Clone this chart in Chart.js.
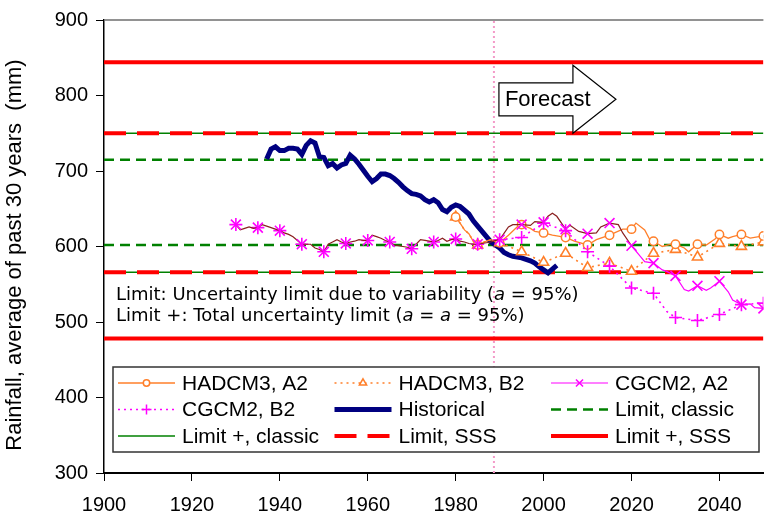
<!DOCTYPE html>
<html>
<head>
<meta charset="utf-8">
<script src="https://cdn.jsdelivr.net/npm/chart.js@4.4.0/dist/chart.umd.min.js"></script>
<style>
html, body { margin: 0; padding: 0; background: #fff; overflow: hidden; }
#wrap { position: relative; width: 772px; height: 520px; }
</style>
</head>
<body>
<div id="wrap"><canvas id="rainChart"></canvas></div>
<script>
// ---- data ----
var histStart = 1937;
var histValues = [716, 729, 732, 727, 727, 730, 730, 729, 722, 734,
                  740, 737, 719, 718, 707, 710, 704, 708, 710, 721,
                  716, 709, 701, 693, 686, 690, 696, 696, 694, 690,
                  685, 679, 674, 670, 669, 667, 662, 659, 662, 658,
                  649, 646, 652, 655, 653, 648, 643, 634, 627, 620,
                  613, 606, 602, 598, 592, 589, 587, 586, 585, 583,
                  581, 578, 573, 569, 565, 570, 575];

// CGCM2 run, common to A2 and B2 up to 1990
var cgcmHistStart = 1930;
var cgcmHistValues = [629, 622, 624, 626, 624, 625, 629, 627, 625, 623,
                      621, 618, 616, 613, 608, 603, 603, 603, 598, 596,
                      593, 603, 606, 609, 606, 604, 606, 607, 609, 608,
                      608, 615, 613, 611, 608, 606, 602, 601, 600, 599,
                      597, 603, 609, 608, 607, 606, 608, 611, 607, 609,
                      610, 607, 606, 604, 603, 603, 604, 605, 606, 608, 609];
var cgcmA2Years = [1992, 1993, 1995, 1997, 1998, 2000, 2001, 2002, 2003, 2005, 2006, 2008,
                   2010, 2012, 2013, 2015, 2017, 2018, 2020, 2022, 2023, 2025, 2027, 2028,
                   2030, 2032, 2033, 2035, 2037, 2038, 2040, 2042, 2043, 2045, 2047, 2048, 2050];
var cgcmA2Values = [626, 629, 629, 628, 633, 632, 640, 644, 640, 623, 628, 620,
                    617, 618, 626, 631, 629, 618, 601, 587, 580, 578, 569, 567,
                    561, 543, 541, 548, 542, 545, 554, 540, 529, 523, 524, 519, 518];
var cgcmB2Years = [1995, 2000, 2005, 2010, 2015, 2020, 2025, 2028, 2030, 2035, 2040, 2045, 2050];
var cgcmB2Values = [612, 631, 621, 593, 574, 545, 538, 514, 506, 502, 510, 523, 525];

// HADCM3 run, common to A2 and B2 up to 1990
var hadHistYears = [1980, 1981, 1982, 1983, 1984, 1985, 1987, 1988, 1990];
var hadHistValues = [639, 631, 622, 617, 607, 602, 607, 609, 605];
var hadA2Years = [1992, 1994, 1995, 1997, 1998, 2000, 2002, 2004, 2005, 2007, 2010, 2012,
                  2015, 2018, 2020, 2021, 2023, 2024, 2025, 2027, 2029, 2030, 2032, 2033,
                  2035, 2037, 2039, 2040, 2042, 2043, 2045, 2047, 2050];
var hadA2Values = [615, 626, 629, 624, 620, 618, 615, 613, 612, 607, 602, 609,
                   615, 623, 623, 631, 622, 611, 607, 600, 603, 603, 598, 593,
                   603, 602, 610, 616, 611, 613, 616, 611, 614];
var hadB2Years = [1995, 2000, 2005, 2010, 2015, 2020, 2025, 2030, 2035, 2040, 2045, 2050];
var hadB2Values = [593, 579, 591, 572, 578, 567, 591, 596, 586, 604, 600, 606];

// limits: [upper, lower]
var limitClassic = [715, 602];
var limitPlusClassic = [750, 566];
var limitSSS = [750, 566];
var limitPlusSSS = [844, 478];

var xTicksStart = 1900, xTicksEnd = 2050, xStep = 20;
var yMin = 300, yMax = 900, yStep = 100;
var forecastYear = 1988.7;
var yTitle = 'Rainfall, average of past 30 years  (mm)';

// ---- helpers ----
function pts(years, values) {
  return values.map(function (v, i) { return { x: years[i], y: v }; });
}
function run(start, values) {
  return values.map(function (v, i) { return { x: start + i, y: v }; });
}
function band(lims) {
  return [{ x: xTicksStart, y: lims[0] }, { x: xTicksEnd, y: lims[0] }, { x: xTicksEnd, y: null },
          { x: xTicksStart, y: lims[1] }, { x: xTicksEnd, y: lims[1] }];
}
function every5(r) {
  return function (c) { return c.raw && c.raw.x % 5 === 0 ? r : 0; };
}

var ORANGE = '#ff7f2a', MAGENTA = '#ff00ff', BROWN = '#8a2020';

var cgcmHist = run(cgcmHistStart, cgcmHistValues);
var hadHist = pts(hadHistYears, hadHistValues);

var datasets = [
  { label: 'HADCM3, A2', data: hadHist.concat(pts(hadA2Years, hadA2Values)),
    borderColor: ORANGE, borderWidth: 1.3, pointStyle: 'circle', mk: 4.2, lmk: 3.2,
    pointRadius: every5(4.2), pointBorderColor: ORANGE, pointBackgroundColor: '#fff', pointBorderWidth: 1.5, order: 2 },
  { label: 'HADCM3, B2', data: hadHist.concat(pts(hadB2Years, hadB2Values)),
    borderColor: ORANGE, borderWidth: 1.6, borderDash: [2, 4], pointStyle: 'triangle', mk: 5.8, lmk: 4.2,
    pointRadius: every5(5.8), pointBorderColor: ORANGE, pointBackgroundColor: '#fff', pointBorderWidth: 1.6, order: 2 },
  { label: 'CGCM2, A2', data: cgcmHist.concat(pts(cgcmA2Years, cgcmA2Values)),
    borderColor: MAGENTA, borderWidth: 1.2, pointStyle: 'crossRot', mk: 7, lmk: 5,
    pointRadius: every5(7), pointBorderColor: MAGENTA, pointBorderWidth: 1.6, order: 1,
    segment: { borderColor: function (c) { return c.p1.parsed.x <= 2020 ? BROWN : MAGENTA; } } },
  { label: 'CGCM2, B2', data: cgcmHist.concat(pts(cgcmB2Years, cgcmB2Values)),
    borderColor: MAGENTA, borderWidth: 1.6, borderDash: [2, 4], pointStyle: 'cross', mk: 6.5, lmk: 5,
    pointRadius: every5(6.5), pointBorderColor: MAGENTA, pointBorderWidth: 1.6, order: 1,
    segment: { borderColor: function (c) { return c.p1.parsed.x <= 1990 ? 'rgba(0,0,0,0)' : MAGENTA; } } },
  { label: 'Historical', data: run(histStart, histValues),
    borderColor: '#000080', borderWidth: 5, pointRadius: 0, order: 5 },
  { label: 'Limit, classic', data: band(limitClassic),
    borderColor: '#008000', borderWidth: 2.5, borderDash: [10, 6], pointRadius: 0, order: 7 },
  { label: 'Limit +, classic', data: band(limitPlusClassic),
    borderColor: '#008000', borderWidth: 1.5, pointRadius: 0, order: 10 },
  { label: 'Limit, SSS', data: band(limitSSS),
    borderColor: '#ff0000', borderWidth: 4, borderDash: [22, 11], pointRadius: 0, order: 9 },
  { label: 'Limit +, SSS', data: band(limitPlusSSS),
    borderColor: '#ff0000', borderWidth: 4, pointRadius: 0, order: 8 },
  { label: 'forecast', data: [{ x: forecastYear, y: yMin }, { x: forecastYear, y: yMax }],
    borderColor: '#f49ac8', borderWidth: 2, borderDash: [2, 3], pointRadius: 0, order: 30 }
];

function richText(ctx, parts, x, y) {
  parts.forEach(function (p) {
    ctx.font = (p[1] ? 'italic ' : '') + '18px "DejaVu Sans"';
    ctx.fillText(p[0], x, y);
    x += ctx.measureText(p[0]).width;
  });
}

var extras = {
  id: 'extras',
  afterDatasetsDraw: function (chart) {
    var ctx = chart.ctx, a = chart.chartArea;
    var xs = chart.scales.x, ys = chart.scales.y;
    ctx.save();
    // top border of plot area
    ctx.strokeStyle = '#6e6e6e'; ctx.lineWidth = 1.5;
    ctx.beginPath(); ctx.moveTo(a.left, a.top); ctx.lineTo(a.right, a.top); ctx.stroke();

    // y axis title
    ctx.save();
    ctx.translate(15, 255); ctx.rotate(-Math.PI / 2);
    ctx.fillStyle = '#000'; ctx.textAlign = 'center'; ctx.textBaseline = 'middle';
    ctx.font = '22px "Liberation Sans"';
    ctx.fillText(yTitle, 0, 0);
    ctx.restore();

    // forecast arrow
    var xf = xs.getPixelForValue(forecastYear), yc = ys.getPixelForValue(795);
    var x0 = xf + 5, xb = x0 + 74, xt = x0 + 117;
    ctx.beginPath();
    ctx.moveTo(x0, yc - 16.5); ctx.lineTo(xb, yc - 16.5); ctx.lineTo(xb, yc - 34);
    ctx.lineTo(xt, yc); ctx.lineTo(xb, yc + 34); ctx.lineTo(xb, yc + 16.5);
    ctx.lineTo(x0, yc + 16.5); ctx.closePath();
    ctx.fillStyle = '#fff'; ctx.fill();
    ctx.strokeStyle = '#000'; ctx.lineWidth = 1.2; ctx.stroke();
    ctx.fillStyle = '#000'; ctx.textBaseline = 'middle'; ctx.textAlign = 'left';
    ctx.font = '22px "Liberation Sans"';
    ctx.fillText('Forecast', x0 + 6, yc + 1);

    // notes
    richText(ctx, [['Limit: Uncertainty limit due to variability (', 0], ['a', 1], [' = 95%)', 0]], a.left + 12, 295);
    richText(ctx, [['Limit +: Total uncertainty limit (', 0], ['a', 1], [' = ', 0], ['a', 1], [' = 95%)', 0]], a.left + 12, 316);

    // legend
    var L = 113, T = 367, R = 759, B = 452;
    ctx.fillStyle = '#fff'; ctx.fillRect(L, T, R - L, B - T);
    ctx.strokeStyle = '#333'; ctx.lineWidth = 1.5; ctx.strokeRect(L, T, R - L, B - T);
    chart.data.datasets.slice(0, 9).forEach(function (ds, i) {
      var lx = 118 + (i % 3) * 216.5, ly = 383 + Math.floor(i / 3) * 26.5;
      ctx.strokeStyle = ds.borderColor; ctx.lineWidth = ds.borderWidth;
      ctx.setLineDash(ds.borderDash || []);
      ctx.beginPath(); ctx.moveTo(lx, ly); ctx.lineTo(lx + 57, ly); ctx.stroke();
      ctx.setLineDash([]);
      if (ds.lmk) {
        ctx.lineWidth = 1.5; ctx.fillStyle = '#fff';
        Chart.helpers.drawPoint(ctx, { pointStyle: ds.pointStyle, radius: ds.lmk, rotation: 0, borderWidth: 1.5 }, lx + 28.5, ly);
      }
      ctx.fillStyle = '#000'; ctx.font = '21px "Liberation Sans"'; ctx.textBaseline = 'middle';
      ctx.fillText(ds.label, lx + 64, ly + 1);
    });
    ctx.restore();
  }
};

Chart.defaults.font.family = '"Liberation Sans", Arial, sans-serif';
Chart.defaults.color = '#000';

new Chart(document.getElementById('rainChart'), {
  type: 'line',
  data: { datasets: datasets },
  plugins: [extras],
  options: {
    responsive: true,
    maintainAspectRatio: false,
    animation: false,
    events: [],
    spanGaps: false,
    layout: { padding: { top: 17, right: 2, left: 0, bottom: 0 } },
    plugins: { legend: { display: false }, tooltip: { enabled: false } },
    scales: {
      x: {
        type: 'linear', min: xTicksStart, max: xTicksEnd,
        afterFit: function (s) { s.height = 47; },
        ticks: { stepSize: xStep, includeBounds: false, padding: 12, font: { size: 20 },
                 maxRotation: 0, callback: function (v) { return String(v); } },
        grid: { drawOnChartArea: false, drawTicks: true, tickLength: 8, color: '#000' },
        border: { color: '#000', width: 2 }
      },
      y: {
        min: yMin, max: yMax,
        afterFit: function (s) { s.width = 104; },
        ticks: { stepSize: yStep, padding: 8, font: { size: 20 } },
        grid: { drawOnChartArea: false, drawTicks: true, tickLength: 8, color: '#000' },
        border: { color: '#000', width: 1.5 }
      }
    }
  }
});
</script>
</body>
</html>
